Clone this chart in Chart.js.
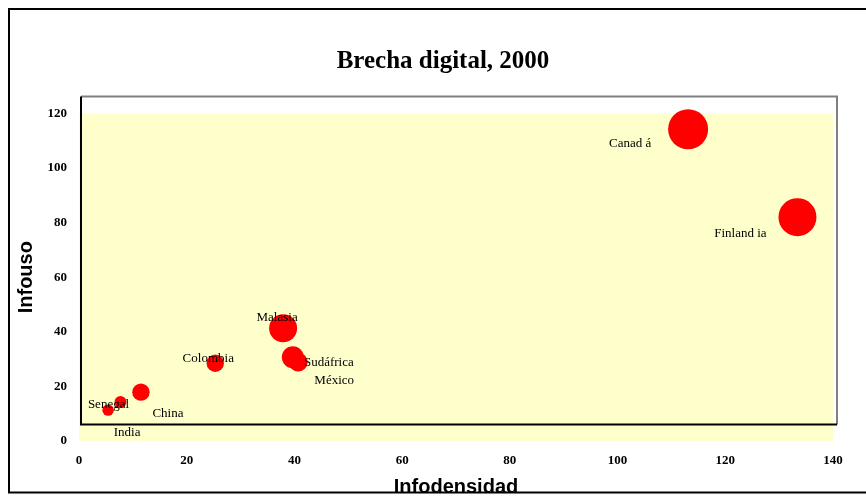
<!DOCTYPE html>
<html lang="es">
<head>
<meta charset="utf-8">
<title>Brecha digital, 2000</title>
<script src="https://cdn.jsdelivr.net/npm/chart.js@4/dist/chart.umd.min.js"></script>
<style>
  html, body { margin: 0; padding: 0; background: #fff; }
</style>
</head>
<body>
<canvas id="myChart" width="866" height="497"></canvas>
<script>
// datos
const titulo = "Brecha digital, 2000";
const paises = ["Canad á", "Finland ia", "Malasia", "Sudáfrica", "México", "Colombia", "China", "Senegal", "India"];
const infodensidad = [113.1, 133.4, 37.9, 39.7, 40.7, 25.3, 11.5, 7.7, 5.4];
const infouso = [114.2, 82.0, 41.3, 30.7, 28.9, 28.5, 17.9, 14.3, 11.3];
const tamano = [20, 19, 14, 11, 9.5, 8.7, 8.7, 6, 5.7];
const ticksX = [0, 20, 40, 60, 80, 100, 120, 140];
const ticksY = [0, 20, 40, 60, 80, 100, 120];

// donde va cada etiqueta respecto a su burbuja (px)
const desplazamientos = [[-58, 14], [-57, 16], [-6, -11], [36, 5], [36, 18], [-7, -5], [27, 21], [-12, 3], [19, 22]];

const fondo = {
  id: "fondo",
  beforeDraw(chart) {
    const { ctx, chartArea: a } = chart;
    ctx.save();
    ctx.fillStyle = "#fff";
    ctx.fillRect(0, 0, chart.width, chart.height);
    ctx.fillStyle = "#ffffcc";
    ctx.fillRect(a.left, a.top, a.right - a.left, a.bottom - a.top);
    ctx.restore();
  },
  beforeDatasetsDraw(chart) {
    // el recuadro desplazado del area de trazado
    const { ctx, chartArea: a } = chart;
    const l = a.left + 2, t = a.top - 17, r = a.right + 4, b = a.bottom - 16.5;
    ctx.save();
    ctx.lineWidth = 2;
    ctx.strokeStyle = "#808080";
    ctx.beginPath();
    ctx.moveTo(l, t); ctx.lineTo(r, t); ctx.lineTo(r, b);
    ctx.stroke();
    ctx.strokeStyle = "#000";
    ctx.beginPath();
    ctx.moveTo(l, t); ctx.lineTo(l, b); ctx.lineTo(r, b);
    ctx.stroke();
    ctx.restore();
  },
  afterDatasetsDraw(chart) {
    const { ctx } = chart;
    const meta = chart.getDatasetMeta(0);
    ctx.save();
    ctx.font = "13px 'Liberation Serif', 'Times New Roman', serif";
    ctx.fillStyle = "#000";
    ctx.textAlign = "center";
    ctx.textBaseline = "middle";
    meta.data.forEach((p, i) => {
      const [dx, dy] = desplazamientos[i];
      ctx.fillText(paises[i], p.x + dx, p.y + dy);
    });
    ctx.restore();
  },
  afterDraw(chart) {
    const { ctx } = chart;
    ctx.save();
    ctx.fillStyle = "#000";
    ctx.font = "bold 25px 'Liberation Serif', 'Times New Roman', serif";
    ctx.textAlign = "center";
    ctx.textBaseline = "alphabetic";
    ctx.fillText(titulo, 443, 67.5);
    ctx.lineWidth = 2;
    ctx.strokeStyle = "#000";
    ctx.strokeRect(9, 9, 1000, 483.5);
    ctx.restore();
  }
};

const fuenteTicks = { family: "'Liberation Serif', 'Times New Roman', serif", size: 13, weight: "bold" };
const fuenteTitulo = { family: "'Liberation Sans', Arial, sans-serif", size: 20, weight: "bold", lineHeight: 1 };

const config = {
  type: "bubble",
  data: {
    datasets: [{
      label: titulo,
      data: paises.map((p, i) => ({ x: infodensidad[i], y: infouso[i], r: tamano[i] })),
      backgroundColor: "#ff0000",
      borderWidth: 0,
      hoverBorderWidth: 0,
      clip: false
    }]
  },
  options: {
    responsive: false,
    animation: false,
    devicePixelRatio: 1,
    layout: { padding: { left: 10, right: 33, top: 113.4, bottom: 0 } },
    plugins: {
      legend: { display: false },
      tooltip: { enabled: false },
      title: { display: false }
    },
    scales: {
      x: {
        type: "linear",
        min: 0,
        max: 140,
        afterBuildTicks: (s) => { s.ticks = ticksX.map((v) => ({ value: v })); },
        afterFit: (s) => { s.height = 56; },
        grid: { display: false, drawTicks: false },
        border: { display: false },
        ticks: { color: "#000", font: fuenteTicks, padding: 12, maxRotation: 0 },
        title: { display: true, text: "Infodensidad", color: "#000", font: fuenteTitulo, padding: { top: 0, bottom: 0 } }
      },
      y: {
        type: "linear",
        min: 0,
        max: 120,
        afterBuildTicks: (s) => { s.ticks = ticksY.map((v) => ({ value: v })); },
        afterFit: (s) => { s.width = 69; },
        grid: { display: false, drawTicks: false },
        border: { display: false },
        ticks: { color: "#000", font: fuenteTicks, padding: 12 },
        title: { display: true, text: "Infouso", color: "#000", font: fuenteTitulo, padding: { top: 6, bottom: 0 } }
      }
    }
  },
  plugins: [fondo]
};

new Chart(document.getElementById("myChart"), config);
</script>
</body>
</html>
